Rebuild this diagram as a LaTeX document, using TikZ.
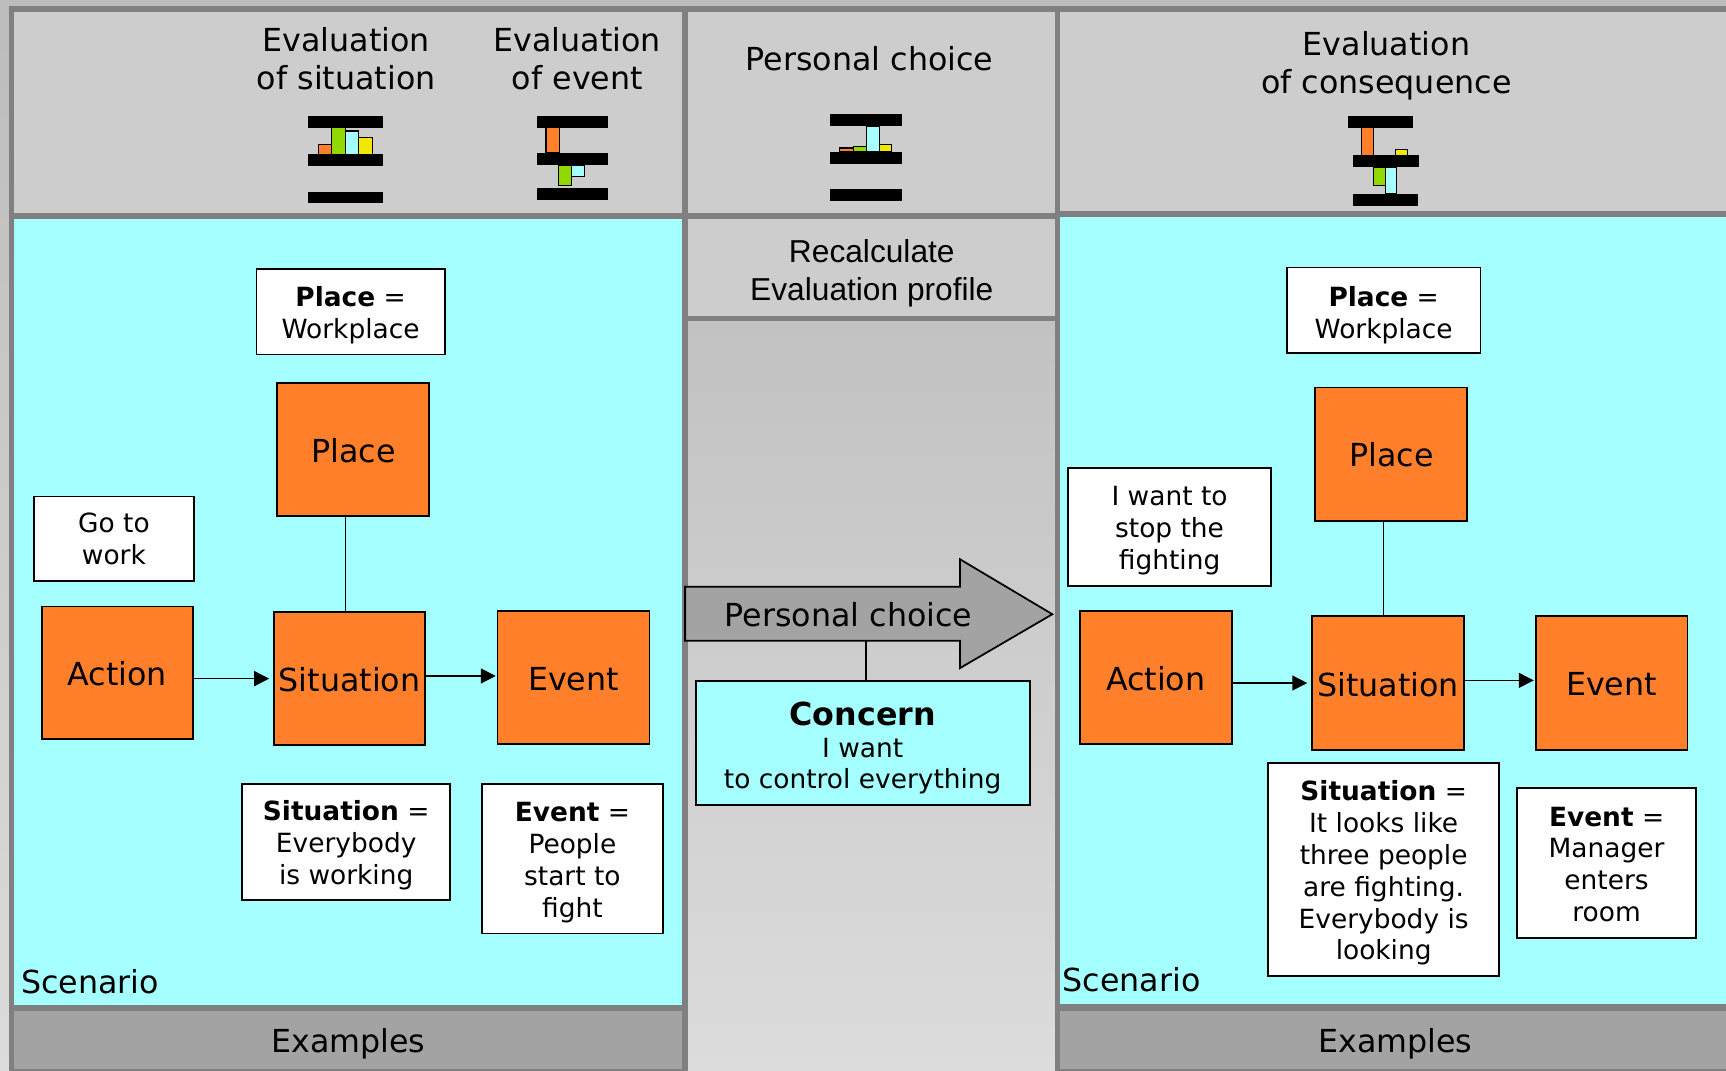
\documentclass[tikz,border=0pt]{standalone}
\usepackage{fontspec}
\setmainfont{DejaVu Sans}
\newfontfamily\arialfont{Liberation Sans}
\usetikzlibrary{arrows.meta}
\definecolor{borderg}{HTML}{808080}
\definecolor{cellg}{HTML}{CDCDCD}
\definecolor{darkg}{HTML}{A3A3A3}
\definecolor{cyanf}{HTML}{A6FFFF}
\definecolor{orangef}{HTML}{FF7F2A}
\definecolor{greenf}{HTML}{90D800}
\definecolor{yellowf}{HTML}{F0E800}
\definecolor{pagetop}{HTML}{BCBCBC}
\definecolor{pagebot}{HTML}{DCDCDC}
\definecolor{midtop}{HTML}{C2C2C2}
\tikzset{
  bigtext/.style={font=\fontsize{14.4}{17.25}\selectfont, align=center, inner sep=0pt},
  smalltext/.style={font=\fontsize{12}{14.5}\selectfont, align=center, inner sep=0pt},
  orangebox/.style={bigtext, draw=black, line width=0.85pt, fill=orangef},
  whitebox/.style={smalltext, draw=black, line width=0.85pt, fill=white},
  concernbox/.style={smalltext, draw=black, line width=0.85pt, fill=cyanf},
  link/.style={draw=black, line width=0.7pt},
  flow/.style={link, -{Triangle[length=6.8pt,width=6.8pt]}},
  barcol/.style={draw=black, line width=0.5pt},
}
% box given by its corners in picture units (1 unit = 0.5pt)
\newcommand\bx[7]{%
  \pgfmathsetmacro\bxcx{(#3+#5)/2}%
  \pgfmathsetmacro\bxcy{(#4+#6)/2}%
  \pgfmathsetmacro\bxw{(#5-#3)*0.5}%
  \pgfmathsetmacro\bxh{(#6-#4)*0.5}%
  \node[#2, minimum width=\bxw pt, minimum height=\bxh pt] (#1) at (\bxcx,\bxcy) {#7};%
}
% first-line struts: the extra height moves a centred text block down
\newcommand\sdn[1]{\rule{0pt}{\dimexpr 9.1pt+#1pt\relax}}
\newcommand\bdn[1]{\rule{0pt}{\dimexpr 10.9pt+#1pt\relax}}
\newcommand\plate[4]{\fill[black] (#1,#2) rectangle (#3,#4);}
\newcommand\ibar[5]{\filldraw[barcol, fill=#5] (#1,#2) rectangle (#3,#4);}
\newcommand\cell[5]{\fill[#5] (#1,#2) rectangle (#3,#4);}
\begin{document}
\begin{tikzpicture}[x=0.5pt,y=-0.5pt]
\useasboundingbox (0,0) rectangle (1568,972.9);
\shade[top color=pagetop, bottom color=pagebot] (0,0) rectangle (1568,972.9);
\shade[top color=midtop, bottom color=pagebot] (625,292) rectangle (958,972.9);
% panel frames
\cell{8}{5.5}{1568}{11}{borderg}
\cell{8}{5.5}{13}{973}{borderg}
\cell{619.5}{5.5}{625}{973}{borderg}
\cell{958}{5.5}{963}{973}{borderg}
% header cells
\cell{13}{11}{619.5}{193.5}{cellg}
\cell{625}{11}{958}{193.5}{cellg}
\cell{963}{11}{1568}{192}{cellg}
\cell{13}{193.5}{958}{199}{borderg}
\cell{963}{192}{1568}{197}{borderg}
% scenario cells
\cell{13}{199}{619.5}{913}{cyanf}
\cell{963}{197}{1568}{912}{cyanf}
% recalculate cell
\cell{625}{199}{958}{287}{cellg}
\cell{625}{287}{958}{292}{borderg}
% example cells
\cell{8}{913}{625}{918}{borderg}
\cell{958}{912}{1568}{918}{borderg}
\cell{13}{918}{619.5}{971}{darkg}
\cell{963}{918}{1568}{971}{darkg}
\cell{8}{971}{625}{973}{borderg}
\cell{958}{971}{1568}{973}{borderg}
% header texts
\node[bigtext] (h1) at (314.5,53) {Evaluation\\of situation};
\node[bigtext] (h2) at (524.5,53) {Evaluation\\of event};
\node[bigtext] (h3) at (790,53) {Personal choice};
\node[bigtext] (h4) at (1259.5,60) {Evaluation\\of consequence};
% icon 1
\plate{280}{105}{348}{116}\plate{280}{140}{348}{151}\plate{280}{174}{348}{184.5}
\ibar{289}{131}{301}{140}{orangef}\ibar{301.5}{116}{313.5}{140}{greenf}\ibar{313.5}{119}{326}{140}{cyanf}\ibar{326}{125}{338}{140}{yellowf}
% icon 2
\plate{488}{105.5}{552}{116}\plate{488}{139}{552}{150}\plate{488}{171}{552}{182}
\ibar{496}{116}{508}{139}{orangef}\ibar{507}{150}{519}{168.5}{greenf}\ibar{519}{150}{531}{160}{cyanf}
% icon 3
\plate{754}{103.6}{819}{114.5}\plate{754}{138}{819}{149}\plate{754}{172}{819}{183}
\ibar{763}{134.5}{775}{138}{orangef}\ibar{775}{133}{787}{138}{greenf}\ibar{787}{114.5}{799}{138}{cyanf}\ibar{799}{131}{810}{138}{yellowf}
% icon 4
\plate{1225}{105}{1284}{116}\plate{1229}{141}{1289}{152}\plate{1229}{176}{1288}{187}
\ibar{1237}{116}{1248}{141}{orangef}\ibar{1268}{136}{1279}{141}{yellowf}\ibar{1248}{152}{1259}{168.5}{greenf}\ibar{1259}{152}{1269}{176}{cyanf}
% middle
\node[font=\arialfont\fontsize{14.4}{17.25}\selectfont, align=center, inner sep=0pt] (recalc) at (792,248) {Recalculate\\Evaluation profile};
\filldraw[draw=black, line width=0.8pt, fill=darkg] (622.4,533) -- (872,533) -- (872,508) -- (956,558) -- (872,607) -- (872,582) -- (622.4,582) -- cycle;
\node[bigtext] (pc) at (771,558.5) {Personal choice};
\coordinate (pcfoot) at (786.5,582);
\bx{concern}{concernbox}{632}{618.7}{935.5}{731}{{\fontsize{14.4}{17.25}\selectfont\bfseries\bdn{4.5}Concern}\\I want\\to control everything}
\draw[link] (pcfoot) -- (pcfoot |- concern.north);
% left scenario
\bx{lpt}{whitebox}{233}{244}{404}{322}{\sdn{3.5}\textbf{Place} =\\Workplace}
\bx{lp}{orangebox}{252}{348}{390}{469}{\bdn{1}Place}
\bx{lgo}{whitebox}{31}{451}{176}{528}{\sdn{0}Go to\\work}
\bx{la}{orangebox}{38}{551}{175}{671}{\bdn{1}Action}
\bx{ls}{orangebox}{249}{556}{386}{677}{\bdn{1}Situation}
\bx{le}{orangebox}{452}{555}{590}{676}{\bdn{1.5}Event}
\bx{lst}{whitebox}{220}{712}{409}{818}{\sdn{3}\textbf{Situation} =\\Everybody\\is working}
\bx{let}{whitebox}{438}{712}{602}{848}{\sdn{3}\textbf{Event} =\\People\\start to\\fight}
\coordinate (lj) at (314,500);
\draw[link] (lj |- lp.south) -- (lj |- ls.north);
\draw[flow, shorten >=1.8pt] (la.east |- ls.west) -- (ls.west);
\draw[flow, shorten >=0.4pt] ([yshift=1.2pt]ls.east) -- ([yshift=1.2pt]ls.east -| le.west);
\node[bigtext, anchor=base west] (ls1) at (19,903) {Scenario};
\node[bigtext] (lx) at (316.5,948) {Examples};
% right scenario
\bx{rpt}{whitebox}{1169}{243}{1345}{321}{\sdn{4}\textbf{Place} =\\Workplace}
\bx{rp}{orangebox}{1195}{352}{1333}{473}{\bdn{1}Place}
\bx{rgo}{whitebox}{970}{425}{1155}{532}{\sdn{3}I want to\\stop the\\fighting}
\bx{ra}{orangebox}{981}{555}{1119}{676}{\bdn{1}Action}
\bx{rs}{orangebox}{1192}{560}{1330}{681}{\bdn{1.5}Situation}
\bx{re}{orangebox}{1395}{560}{1533}{681}{\bdn{1}Event}
\bx{rst}{whitebox}{1152}{693}{1362}{887}{\sdn{3}\textbf{Situation} =\\It looks like\\three people\\are fighting.\\Everybody is\\looking}
\bx{ret}{whitebox}{1378}{716}{1541}{852}{\sdn{1}\textbf{Event} =\\Manager\\enters\\room}
\coordinate (rj) at (1257,500);
\draw[link] (rj |- rp.south) -- (rj |- rs.north);
\draw[flow, shorten >=1.8pt] (ra.east |- rs.west) -- (rs.west);
\draw[flow, shorten >=0.4pt] ([yshift=1.2pt]rs.east) -- ([yshift=1.2pt]rs.east -| re.west);
\node[bigtext, anchor=base west] (rs1) at (965,901) {Scenario};
\node[bigtext] (rx) at (1267.5,948) {Examples};
\end{tikzpicture}
\end{document}
